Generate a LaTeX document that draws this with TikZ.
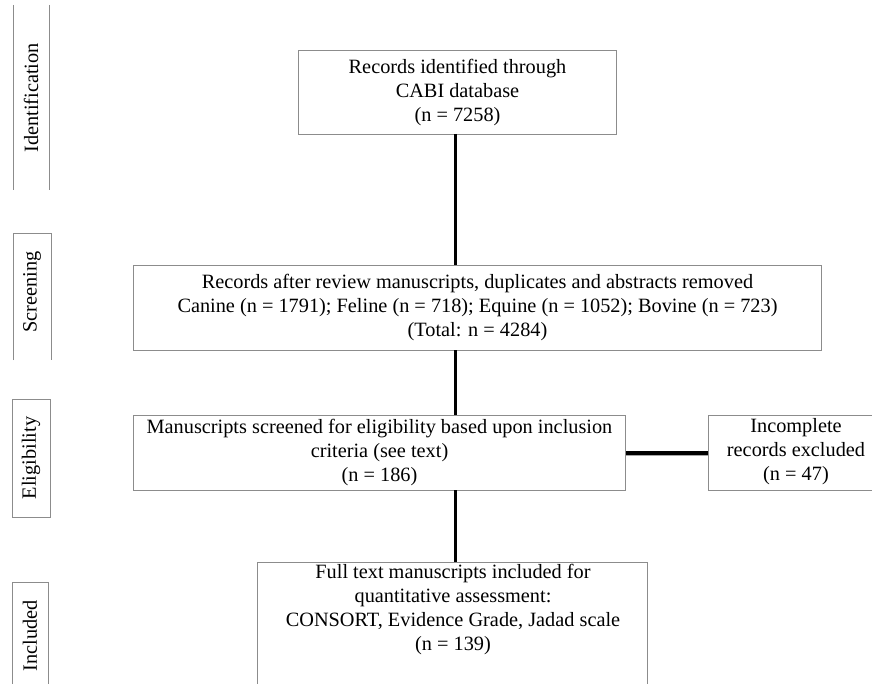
\documentclass[tikz,border=0pt]{standalone}
\usepackage{fontspec}
\setmainfont{Liberation Serif}
\begin{document}
\begin{tikzpicture}[x=1pt,y=-1pt]
\useasboundingbox[fill=white] (0,0) rectangle (872,684);
\tikzset{
  boxline/.style={draw=black!45, line width=1pt},
  flowbox/.style={boxline, rectangle, inner sep=0pt, align=center,
    font=\fontsize{20.3}{24}\selectfont, anchor=north west},
  flowtext/.style={align=center, inner sep=0pt, font=\fontsize{20.3}{24}\selectfont},
  link/.style={line width=3pt, black},
  sidelabel/.style={rotate=90, inner sep=0pt, font=\fontsize{20.3}{24}\selectfont}
}
% side labels
\draw[boxline] (13,5) -- (13,190) (49,5) -- (49,190);
\node[sidelabel] (lid) at (31,98) {Identification};
\draw[boxline] (13,360) -- (13,234) -- (51,234) -- (51,360);
\node[sidelabel] (lsc) at (32,292) {Screening};
\draw[boxline] (12,399) rectangle (50,517);
\node[sidelabel] (lel) at (31,458) {Eligibility};
\draw[boxline] (12,684) -- (12,582) -- (48,582) -- (48,684);
\node[sidelabel] (lin) at (30,636) {Included};

% flow boxes
\node[flowbox, minimum width=318pt, minimum height=84pt] (b1) at (298,50)
  {Records identified through\\CABI database\\(n = 7258)};
\node[flowbox, minimum width=688pt, minimum height=85pt] (b2) at (133,265)
  {Records after review manuscripts, duplicates and abstracts removed\\
   Canine (n = 1791); Feline (n = 718); Equine (n = 1052); Bovine (n = 723)\\
   (Total: n = 4284)};
\node[flowbox, minimum width=492pt, minimum height=75pt] (b3) at (133,415)
  {Manuscripts screened for eligibility based upon inclusion\\criteria (see text)\\(n = 186)};
% excluded box (cut at the right edge)
\coordinate (b5nw) at (708,415);
\draw[boxline] (872,415) -- (b5nw) -- (708,490) -- (872,490);
\node[flowtext] (b5) at (796,452) {Incomplete\\records excluded\\(n = 47)};
% included box (cut at the bottom)
\coordinate (b4nw) at (257,562);
\draw[boxline] (257,684) -- (b4nw) -- (647,562) -- (647,684);
\node[flowtext] (b4) at (453,610)
  {Full text manuscripts included for\\quantitative assessment:\\CONSORT, Evidence Grade, Jadad scale\\(n = 139)};
\coordinate (b4top) at (455,562);

% connectors
\draw[link] (455,134) -- (455,265);
\draw[link] (455,350) -- (455,415);
\draw[link] (455,490) -- (b4top);
\draw[black!35, line width=5pt] (b3.east) -- (b5nw |- b3.east);
\draw[line width=3.5pt, black] (b3.east) -- (b5nw |- b3.east);
\end{tikzpicture}
\end{document}
